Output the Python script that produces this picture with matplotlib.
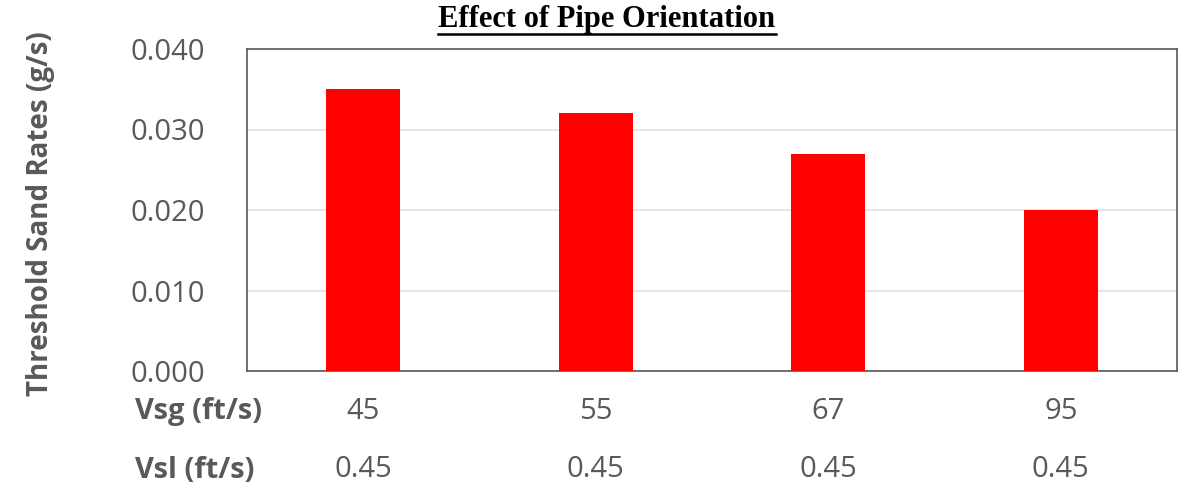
import matplotlib
matplotlib.use("Agg")
import matplotlib.pyplot as plt
from matplotlib.lines import Line2D
import numpy as np

# data
vsg_labels = ["45", "55", "67", "95"]
vsl_labels = ["0.45", "0.45", "0.45", "0.45"]
sand_rates = [0.035, 0.032, 0.027, 0.020]
y_ticks = [0.000, 0.010, 0.020, 0.030, 0.040]

W, H = 1189, 491
fig = plt.figure(figsize=(W / 100, H / 100), dpi=100)
ax = fig.add_axes([247 / W, 1 - 371 / H, (1177 - 247) / W, (371 - 49) / H])

gray = "#595959"
x = np.arange(len(sand_rates))
ax.bar(x, sand_rates, width=0.32, color="#ff0000", zorder=3)
ax.set_xlim(-0.5, len(sand_rates) - 0.5)
ax.set_ylim(0, 0.040)
ax.set_yticks(y_ticks)
ax.set_yticklabels([f"{v:.3f}" for v in y_ticks], fontsize=21, color=gray,
                   family="Open Sans")
ax.tick_params(axis="y", length=0, pad=30)
ax.set_xticks([])
ax.grid(axis="y", color="#e0e0e0", linewidth=1.2, zorder=0)
for sp in ax.spines.values():
    sp.set_color(gray)
    sp.set_linewidth(1.2)

ax.set_ylabel("Threshold Sand Rates (g/s)", fontsize=20, fontweight="bold",
              color=gray, family="Open Sans")
ax.yaxis.set_label_coords(-0.206, 0.49)

# category rows under the axis
tr = ax.get_xaxis_transform()
for xi, (a, b) in enumerate(zip(vsg_labels, vsl_labels)):
    ax.text(xi, -0.127, a, transform=tr, ha="center", va="center",
            fontsize=21, color=gray, family="Open Sans")
    ax.text(xi, -0.307, b, transform=tr, ha="center", va="center",
            fontsize=21, color=gray, family="Open Sans")
fig.text(135 / W, 1 - 412 / H, "Vsg (ft/s)", ha="left", va="center",
         fontsize=21, fontweight="bold", color=gray, family="Open Sans")
fig.text(135 / W, 1 - 470 / H, "Vsl (ft/s)", ha="left", va="center",
         fontsize=21, fontweight="bold", color=gray, family="Open Sans")

title = fig.text(607 / W, 1 - 20 / H, "Effect of Pipe Orientation",
                 ha="center", va="center", fontsize=22, fontweight="bold",
                 family="Liberation Serif", color="black")
fig.canvas.draw()
bb = title.get_window_extent()
uy = (bb.y0 + 1) / H
fig.add_artist(Line2D([bb.x0 / W, bb.x1 / W], [uy, uy], color="black",
                      linewidth=1.8, transform=fig.transFigure))

fig.savefig("out.png", dpi=100)
